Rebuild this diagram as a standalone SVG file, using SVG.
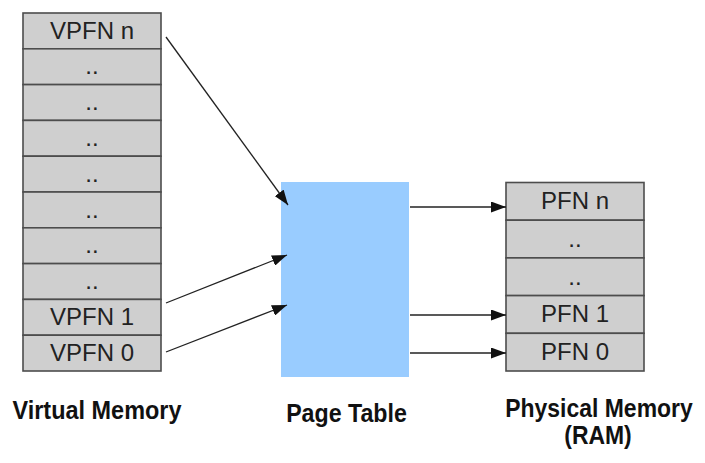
<svg xmlns="http://www.w3.org/2000/svg" width="705" height="463" viewBox="0 0 705 463">
<style>
.cell{fill:#cfcfcf;stroke:#4d4d4d;stroke-width:1.6}
.lbl{font-family:"Liberation Sans",Arial,sans-serif;font-size:24px;fill:#222;text-anchor:middle}
.cap{font-family:"Liberation Sans",Arial,sans-serif;font-size:25.5px;font-weight:bold;fill:#111;text-anchor:middle}
.conn{stroke:#222;stroke-width:1.3;fill:none;marker-end:url(#arr)}
</style>
<defs>
<marker id="arr" markerUnits="userSpaceOnUse" markerWidth="15" markerHeight="11" refX="15" refY="5.5" orient="auto">
<path d="M0,0 L15,5.5 L0,11 z" fill="#111"/>
</marker>
</defs>
<rect width="705" height="463" fill="#fff"/>
<g id="virtual-memory">
<rect class="cell" x="23" y="13" width="138" height="35.8"/>
<rect class="cell" x="23" y="48.8" width="138" height="35.8"/>
<rect class="cell" x="23" y="84.6" width="138" height="35.8"/>
<rect class="cell" x="23" y="120.4" width="138" height="35.8"/>
<rect class="cell" x="23" y="156.2" width="138" height="35.8"/>
<rect class="cell" x="23" y="192" width="138" height="35.8"/>
<rect class="cell" x="23" y="227.8" width="138" height="35.8"/>
<rect class="cell" x="23" y="263.6" width="138" height="35.8"/>
<rect class="cell" x="23" y="299.4" width="138" height="35.8"/>
<rect class="cell" x="23" y="335.2" width="138" height="35.8"/>
<text class="lbl" x="92" y="39">VPFN n</text>
<text class="lbl" x="92" y="74">..</text>
<text class="lbl" x="92" y="110">..</text>
<text class="lbl" x="92" y="146">..</text>
<text class="lbl" x="92" y="182">..</text>
<text class="lbl" x="92" y="218">..</text>
<text class="lbl" x="92" y="253">..</text>
<text class="lbl" x="92" y="289">..</text>
<text class="lbl" x="92" y="325">VPFN 1</text>
<text class="lbl" x="92" y="361">VPFN 0</text>
<text class="cap" transform="translate(97,418.5) scale(0.92,1)">Virtual Memory</text>
</g>
<g id="page-table">
<rect x="281" y="182" width="128" height="195" fill="#99ccff"/>
<text class="cap" transform="translate(346.5,421.5) scale(0.91,1)">Page Table</text>
</g>
<g id="physical-memory">
<rect class="cell" x="506" y="182.5" width="138" height="37.7"/>
<rect class="cell" x="506" y="220.2" width="138" height="37.7"/>
<rect class="cell" x="506" y="257.9" width="138" height="37.7"/>
<rect class="cell" x="506" y="295.6" width="138" height="37.7"/>
<rect class="cell" x="506" y="333.3" width="138" height="37.7"/>
<text class="lbl" x="575" y="209">PFN n</text>
<text class="lbl" x="575" y="247">..</text>
<text class="lbl" x="575" y="285">..</text>
<text class="lbl" x="575" y="322">PFN 1</text>
<text class="lbl" x="575" y="360">PFN 0</text>
<text class="cap" transform="translate(599,417) scale(0.9,1)">Physical Memory</text>
<text class="cap" transform="translate(598,443.5) scale(0.9,1)">(RAM)</text>
</g>
<g id="connectors">
<line class="conn" x1="166" y1="37" x2="288" y2="205"/>
<line class="conn" x1="166" y1="303" x2="287" y2="255"/>
<line class="conn" x1="166" y1="352" x2="287" y2="305"/>
<line class="conn" x1="410" y1="207" x2="506" y2="207"/>
<line class="conn" x1="410" y1="315" x2="506" y2="315"/>
<line class="conn" x1="410" y1="353" x2="506" y2="353"/>
</g>
</svg>
